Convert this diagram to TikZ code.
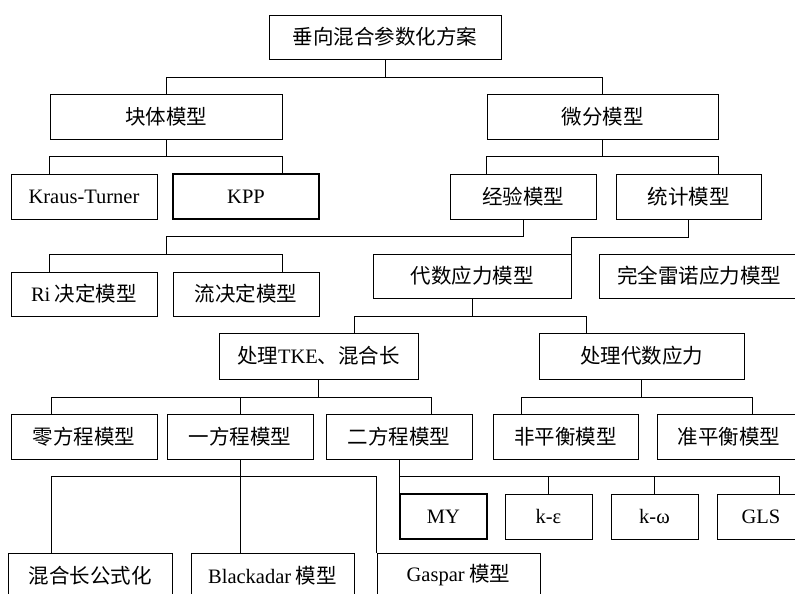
\documentclass[tikz,border=0pt]{standalone}
\usepackage{fontspec}
\setmainfont{Liberation Serif}
\newfontfamily\cjk{Noto Sans CJK SC}
\begin{document}
\begin{tikzpicture}[x=1pt,y=-1pt,
        box/.style={draw,line width=0.9pt,inner sep=0pt,minimum height=45pt,font=\cjk\fontsize{20.5}{24}\selectfont},
        boldbox/.style={box,line width=2.2pt},
        link/.style={line width=0.9pt}]
        \useasboundingbox(0,0)rectangle(795,594);
        \clip(0,0)rectangle(795,594);
        \node[box,minimum width=232pt,minimum height=44pt](top)at(385,37){垂向混合参数化方案};
        \node[box,minimum width=232pt](kuai)at(166,116.5){块体模型};
        \node[box,minimum width=231pt](weifen)at(602.5,116.5){微分模型};
        \node[box,minimum width=146pt](kt)at(84,196.5){\rmfamily Kraus-Turner};
        \node[boldbox,minimum width=146pt](kpp)at(246,196.5){\rmfamily KPP};
        \node[box,minimum width=146pt](jingyan)at(523,196.5){经验模型};
        \node[box,minimum width=145pt](tongji)at(688.5,196.5){统计模型};
        \node[box,minimum width=146pt,minimum height=44pt](ri)at(84,294){{\rmfamily Ri} 决定模型};
        \node[box,minimum width=146pt,minimum height=44pt](liu)at(246,294){流决定模型};
        \node[box,minimum width=198pt,minimum height=44pt](daishu)at(472,276){代数应力模型};
        \node[box,minimum width=200pt,minimum height=44pt](wanquan)at(699,276){完全雷诺应力模型};
        \node[box,minimum width=199pt,minimum height=46pt](tke)at(318.5,356){处理{\rmfamily TKE}、混合长};
        \node[box,minimum width=205pt,minimum height=46pt](daili)at(641.5,356){处理代数应力};
        \node[box,minimum width=146pt](ling)at(84,436.5){零方程模型};
        \node[box,minimum width=146pt](yi)at(240,436.5){一方程模型};
        \node[box,minimum width=146pt](er)at(399,436.5){二方程模型};
        \node[box,minimum width=145pt](fei)at(565.5,436.5){非平衡模型};
        \node[box,minimum width=144pt](zhun)at(729,436.5){准平衡模型};
        \node[boldbox,minimum width=87pt](my)at(443.5,516.5){\rmfamily MY};
        \node[box,minimum width=87pt](ke)at(548.5,516.5){\rmfamily k-ε};
        \node[box,minimum width=87pt](kw)at(654.5,516.5){\rmfamily k-ω};
        \node[box,minimum width=87pt](gls)at(761,516.5){\rmfamily GLS};
        \node[box,minimum width=164pt](hh)at(90,575.5){混合长公式化};
        \node[box,minimum width=163pt](blackadar)at(272.5,575.5){{\rmfamily Blackadar} 模型};
        \node[box,minimum width=163pt](gaspar)at(458.5,575.5){{\rmfamily Gaspar} 模型};
        \coordinate(jy)at(166,254);
        \draw[link](top.south)--++(0,18)-|(kuai.north);
        \draw[link](top.south)--++(0,18)-|(weifen.north);
        \draw[link](kuai.south)--++(0,17)-|(kt.north-|kuai.west);
        \draw[link](kuai.south)--++(0,17)-|(kpp.north-|kuai.east);
        \draw[link](weifen.south)--++(0,17)-|(jingyan.north-|weifen.west);
        \draw[link](weifen.south)--++(0,17)-|(tongji.north-|weifen.east);
        \draw[link](jingyan.south)--++(0,17)-|(jy);
        \draw[link](jy)-|(ri.north-|kuai.west);
        \draw[link](jy)-|(liu.north-|kuai.east);
        \draw[link](tongji.south)--++(0,18)-|(daishu.north east);
        \draw[link](daishu.south)--++(0,18)-|([xshift=35.5pt]tke.north);
        \draw[link](daishu.south)--++(0,18)-|([xshift=-55.5pt]daili.north);
        \draw[link](tke.south)--++(0,18)-|([xshift=-33pt]ling.north);
        \draw[link](tke.south)--++(0,18)-|(yi.north);
        \draw[link](tke.south)--++(0,18)-|([xshift=32pt]er.north);
        \draw[link](daili.south)--++(0,18)-|([xshift=-44.5pt]fei.north);
        \draw[link](daili.south)--++(0,18)-|([xshift=23pt]zhun.north);
        \draw[link](er.south)--(er.south|-my.north);
        \draw[link](er.south)--++(0,17)-|(ke.north);
        \draw[link](er.south)--++(0,17)-|(kw.north);
        \draw[link](er.south)--++(0,17)-|([xshift=18pt]gls.north);
        \draw[link](yi.south)--++(0,17)-|([xshift=-39pt]hh.north);
        \draw[link](yi.south)--(yi.south|-blackadar.north);
        \draw[link](yi.south)--++(0,17)-|(gaspar.north west);
\end{tikzpicture}
\end{document}
